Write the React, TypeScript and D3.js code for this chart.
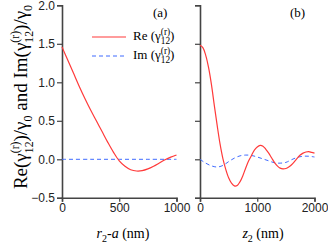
import React, { useEffect, useRef } from 'react';
import * as d3 from 'd3';

// panel (a): distance from sphere surface r2 - a (nm)
const distA = [0, 50, 100, 150, 200, 250, 300, 350, 400, 450, 500, 550, 600, 650, 700, 750, 800, 850, 900, 950, 1000];
const reA = [1.46, 1.29, 1.12, 0.95, 0.79, 0.64, 0.5, 0.36, 0.22, 0.09, -0.02, -0.09, -0.135, -0.152, -0.148, -0.125, -0.09, -0.048, -0.005, 0.028, 0.056];
const imDistA = [0, 250, 500, 750, 1000];
const imA = [0, 0, 0, 0, 0];

// panel (b): z2 (nm)
const distB = [0, 50, 100, 150, 200, 250, 300, 350, 400, 450, 500, 550, 600, 650, 700, 750, 800, 850, 900, 950, 1000,
  1050, 1100, 1150, 1200, 1250, 1300, 1350, 1400, 1450, 1500, 1550, 1600, 1650, 1700, 1750, 1800, 1850, 1900, 1950, 2000];
const reB = [1.48, 1.45, 1.35, 1.19, 0.97, 0.7, 0.44, 0.2, 0.01, -0.13, -0.24, -0.31, -0.345, -0.34, -0.29, -0.21, -0.11, -0.02, 0.05, 0.12, 0.16,
  0.18, 0.17, 0.13, 0.08, 0.02, -0.04, -0.085, -0.115, -0.125, -0.12, -0.1, -0.07, -0.03, 0.015, 0.055, 0.08, 0.095, 0.1, 0.09, 0.08];
const imDistB = [0, 100, 200, 300, 400, 500, 600, 700, 800, 900, 1000, 1100, 1200, 1300, 1400, 1500, 1600, 1700, 1800, 1900, 2000];
const imB = [0, -0.05, -0.085, -0.1, -0.08, -0.03, 0.015, 0.045, 0.055, 0.05, 0.03, 0.005, -0.02, -0.045, -0.05, -0.04, -0.005, 0.025, 0.04, 0.04, 0.03];

const yTicks = [-0.5, 0, 0.5, 1.0, 1.5, 2.0];
const xTicksA = [0, 500, 1000];
const xTicksB = [0, 1000, 2000];

const RED = '#ff3a3a';
const BLUE = '#3f6bff';
const AXIS = '#444';
const SERIF = '"Liberation Serif", "Times New Roman", serif';
const SANS = '"Liberation Sans", Arial, sans-serif';

// writes gamma_12^(r) into a text node, sub and sup stacked
function gammaRich(text, before, after, size, ratio = 0.72) {
  const small = size * ratio;
  text.append('tspan').text(before + 'γ');
  const sub = text.append('tspan').attr('font-size', small).attr('dy', size * 0.3).text('12');
  const w = sub.node().getComputedTextLength();
  text.append('tspan').attr('font-size', small).attr('dx', -w).attr('dy', -size * 0.72).text('(r)');
  text.append('tspan').attr('dy', size * 0.42).text(after);
}

export default function App() {
  const ref = useRef(null);

  useEffect(() => {
    const svg = d3.select(ref.current);
    svg.selectAll('*').remove();

    const y = d3.scaleLinear().domain([-0.5, 2]).range([197.8, 5.3]);
    const xA = d3.scaleLinear().domain([0, 1000]).range([62, 176.5]);
    const xB = d3.scaleLinear().domain([0, 2000]).range([200, 314.5]);

    const drawAxes = (x, xTicks, showY) => {
      const gx = svg.append('g').attr('transform', `translate(0,${y(-0.5)})`)
        .call(d3.axisBottom(x).tickValues(xTicks).tickSize(4).tickPadding(2).tickFormat(d3.format('d')));
      const gy = svg.append('g').attr('transform', `translate(${x(0)},0)`)
        .call(d3.axisLeft(y).tickValues(yTicks).tickSize(5).tickPadding(2)
          .tickFormat(showY ? d3.format('.1f') : () => ''));
      [gx, gy].forEach(g => {
        g.select('.domain').attr('stroke', AXIS).attr('stroke-width', 1.6);
        g.selectAll('.tick line').attr('stroke', AXIS).attr('stroke-width', 1.2);
        g.selectAll('text').attr('font-family', SANS).attr('font-size', 12).attr('fill', '#222');
      });
    };
    drawAxes(xA, xTicksA, true);
    drawAxes(xB, xTicksB, false);

    const line = (x) => d3.line().x(d => x(d[0])).y(d => y(d[1])).curve(d3.curveCatmullRom);

    svg.append('path').datum(d3.zip(imDistA, imA)).attr('d', line(xA))
      .attr('fill', 'none').attr('stroke', BLUE).attr('stroke-width', 1).attr('stroke-dasharray', '4,3');
    svg.append('path').datum(d3.zip(distA, reA)).attr('d', line(xA))
      .attr('fill', 'none').attr('stroke', RED).attr('stroke-width', 1.2);

    svg.append('path').datum(d3.zip(imDistB, imB)).attr('d', line(xB))
      .attr('fill', 'none').attr('stroke', BLUE).attr('stroke-width', 1).attr('stroke-dasharray', '4,3');
    svg.append('path').datum(d3.zip(distB, reB)).attr('d', line(xB))
      .attr('fill', 'none').attr('stroke', RED).attr('stroke-width', 1.2);

    // panel labels
    svg.append('text').attr('x', 153).attr('y', 17).attr('font-family', SERIF).attr('font-size', 13).text('(a)');
    svg.append('text').attr('x', 290).attr('y', 17).attr('font-family', SERIF).attr('font-size', 13).text('(b)');

    // legend
    svg.append('line').attr('x1', 92).attr('x2', 126).attr('y1', 37).attr('y2', 37)
      .attr('stroke', RED).attr('stroke-width', 1.2);
    svg.append('line').attr('x1', 92).attr('x2', 124).attr('y1', 56).attr('y2', 56)
      .attr('stroke', BLUE).attr('stroke-width', 1).attr('stroke-dasharray', '4,3');
    const l1 = svg.append('text').attr('x', 133).attr('y', 40).attr('font-family', SERIF).attr('font-size', 13);
    gammaRich(l1, 'Re (', ')', 13);
    const l2 = svg.append('text').attr('x', 133).attr('y', 59).attr('font-family', SERIF).attr('font-size', 13);
    gammaRich(l2, 'Im (', ')', 13);

    // x titles
    const tA = svg.append('text').attr('x', 123).attr('y', 238).attr('text-anchor', 'middle')
      .attr('font-family', SERIF).attr('font-size', 14);
    tA.append('tspan').attr('font-style', 'italic').text('r');
    tA.append('tspan').attr('font-size', 10).attr('dy', 4).text('2');
    tA.append('tspan').attr('dy', -4).text('-');
    tA.append('tspan').attr('font-style', 'italic').text('a');
    tA.append('tspan').text(' (nm)');

    const tB = svg.append('text').attr('x', 263).attr('y', 238).attr('text-anchor', 'middle')
      .attr('font-family', SERIF).attr('font-size', 14);
    tB.append('tspan').attr('font-style', 'italic').text('z');
    tB.append('tspan').attr('font-size', 10).attr('dy', 4).text('2');
    tB.append('tspan').attr('dy', -4).text(' (nm)');

    // y title
    const ty = svg.append('text').attr('transform', 'translate(27,97) rotate(-90)')
      .attr('text-anchor', 'middle').attr('font-family', SERIF).attr('font-size', 19);
    gammaRich(ty, 'Re(', ')/γ', 19, 0.62);
    ty.append('tspan').attr('font-size', 12).attr('dy', 5).text('0');
    ty.append('tspan').attr('dy', -5).text(' and Im(');
    gammaRich(ty, '', ')/γ', 19, 0.62);
    ty.append('tspan').attr('font-size', 12).attr('dy', 5).text('0');
  }, []);

  return (
    <svg ref={ref} width={328} height={249}
      style={{ position: 'absolute', left: 0, top: 0, background: '#fff' }} />
  );
}
